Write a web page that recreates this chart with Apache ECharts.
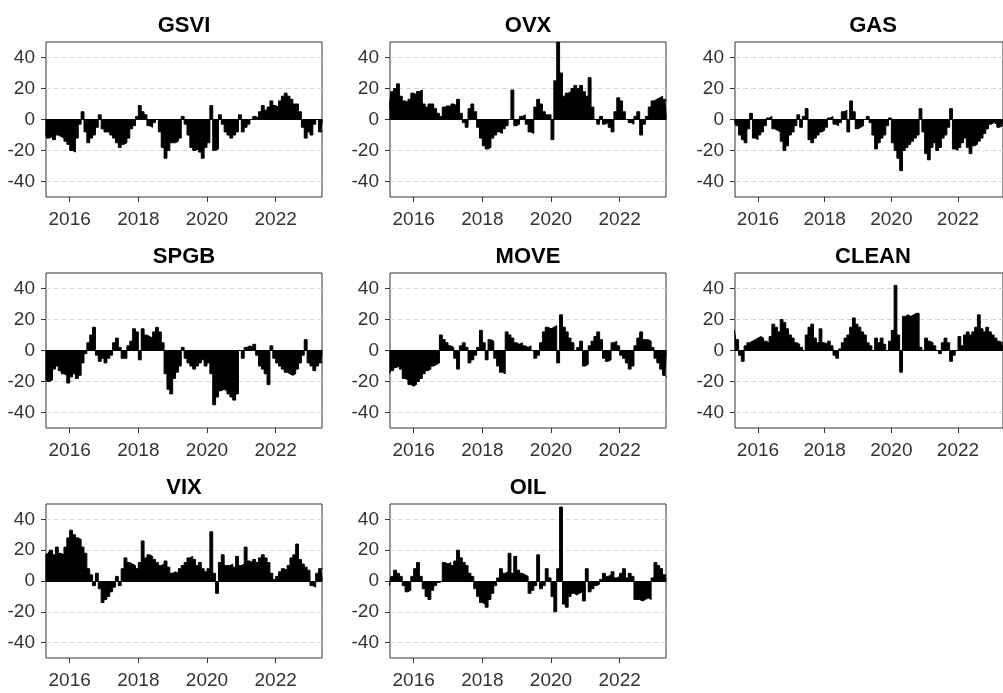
<!DOCTYPE html>
<html>
<head>
<meta charset="utf-8">
<title>Panels</title>
<script src="https://cdn.jsdelivr.net/npm/echarts@6/dist/echarts.min.js"></script>
<style>
  html, body { margin: 0; padding: 0; background: #fff; }
  #chart { width: 1003px; height: 693px; }
</style>
</head>
<body>
<div id="chart"></div>
<script>
// monthly observations, Apr 2015 .. May 2023
const firstMonth = 2015.25
const yearTicks = [2016, 2018, 2020, 2022]
const valueTicks = [-40, -20, 0, 20, 40]
const names = ['GSVI', 'OVX', 'GAS', 'SPGB', 'MOVE', 'CLEAN', 'VIX', 'OIL']

const gsvi = [
  -10, -12, -11, -13, -10, -11, -12, -14, -16,
  -20, -21, -12, -3, 5, -8, -15, -12, -10, -5, 3, -6,
  -8, -8, -10, -12, -15, -18, -16, -15, -12, -6, -4, 2,
  9, 5, 3, -4, -5, -2, 0, -8, -18, -25, -20, -15,
  -15, -14, -12, 2, -3, -10, -18, -20, -19, -21, -25, -18,
  -15, 9, -20, -19, 3, -3, -8, -10, -12, -10, -8, 3,
  -8, -5, -3, 0, 2, 1, 5, 9, 6, 8, 12, 9,
  8, 12, 15, 17, 15, 13, 10, 10, 5, -5, -12, -8,
  -10, -3, 0, -8, -7
]
const ovx = [
  8, 18, 20, 23, 15, 12, 11, 13, 17,
  16, 18, 19, 10, 8, 10, 10, 7, 4, 2, 8, 9,
  8, 10, 9, 13, 4, -2, -5, 7, 10, 5, -5, -12,
  -17, -19, -18, -12, -10, -8, -9, -6, -4, 0, 19, -4,
  -3, 2, 3, -3, -8, -9, 8, 13, 10, 5, 3, 3,
  -13, 25, 50, 30, 15, 17, 18, 20, 22, 20, 22, 18,
  15, 27, 8, 0, -3, 2, -3, -2, -5, -8, 5, 14,
  12, 5, 0, -2, -3, 2, 5, -10, -3, 2, 8, 12,
  13, 14, 15, 13, 12
]
const gas = [
  -1, -4, -10, -13, -15, -6, 4, -12, -13,
  -10, -8, -4, 1, 2, -6, -7, -8, -14, -20, -17, -10,
  -8, -4, 3, -5, 2, 7, -13, -15, -12, -10, -8, -7,
  -5, 1, 2, -3, -4, -2, 5, 6, -8, 12, 5, -6,
  -5, -4, 0, 2, -2, -10, -19, -15, -12, -10, -4, 1,
  -15, -20, -25, -33, -20, -18, -16, -14, -12, -10, 7, -8,
  -22, -26, -18, -15, -20, -18, -12, -10, -5, 7, -19, -20,
  -18, -15, -12, -18, -22, -17, -16, -14, -12, -9, -6, -3,
  -2, -3, -5, -4, -3
]
const spgb = [
  -18, -20, -19, -12, -10, -13, -15, -16, -21,
  -17, -15, -18, -16, -8, -2, 5, 10, 15, -3, -7, -5,
  -8, -5, -3, 5, 8, 2, -5, -5, 3, 6, 14, 12,
  -6, 14, 10, 9, 8, 12, 15, 12, 5, -15, -25, -28,
  -18, -14, -10, 2, -5, -8, -10, -12, -10, -8, -6, -10,
  -8, -15, -35, -30, -26, -25, -26, -28, -30, -32, -28, 0,
  -5, 2, 3, 2, 4, -3, -10, -12, -15, -22, 3, -5,
  -8, -10, -12, -14, -15, -16, -15, -12, -8, -3, 7, -8,
  -10, -13, -10, -8, -7
]
const move = [
  -15, -13, -11, -10, -12, -18, -19, -22, -23,
  -22, -20, -18, -15, -13, -12, -10, -9, -8, 10, 7, 5,
  3, 2, -5, -12, 3, 5, 2, -8, -6, -3, 2, 13,
  5, -6, 7, 6, -5, -10, -14, -15, 12, 10, 8, 5,
  4, 5, 3, 2, 3, 0, -5, -3, 5, 12, 15, 14,
  15, 16, -8, 23, 15, 12, 8, 5, 0, 2, 6, -10,
  -9, 3, 6, 9, 12, 7, -5, -7, -6, 5, 6, 3,
  -3, -5, -8, -12, -10, 3, 8, 12, 7, 7, 6, 2,
  -5, -8, -12, -16, -17
]
const clean = [
  13, 7, -3, -7, 3, 5, 6, 7, 8,
  9, 8, 6, 5, 9, 17, 15, 12, 20, 18, 14, 10,
  8, 5, 4, 2, 0, 10, 15, 17, 8, 5, 14, 5,
  4, 6, 3, -3, -5, 1, 5, 8, 10, 15, 21, 17,
  15, 12, 10, 5, 3, 0, 8, 5, 8, 4, 0, 6,
  13, 42, 10, -14, 22, 23, 22, 23, 24, 24, 2, 0,
  8, 6, 5, 3, 0, -2, 5, 8, 5, -7, -3, 0,
  9, 3, 10, 12, 10, 12, 15, 23, 14, 12, 15, 12,
  10, 8, 6, 5, 5
]
const vix = [
  17, 18, 20, 17, 22, 18, 17, 22, 28,
  33, 30, 28, 27, 22, 18, 8, 4, -3, 5, -5, -14,
  -12, -10, -7, -4, 3, -3, 8, 15, 12, 11, 10, 8,
  12, 26, 15, 17, 16, 14, 12, 10, 11, 13, 9, 5,
  6, 5, 8, 10, 12, 15, 16, 14, 10, 12, 8, 6,
  8, 32, 5, -8, 12, 17, 10, 10, 11, 9, 16, 10,
  11, 22, 13, 12, 14, 12, 15, 17, 15, 12, 5, 1,
  3, 6, 8, 7, 10, 15, 17, 24, 14, 11, 9, 7,
  -3, -4, 5, 8, 8
]
const oil = [
  -3, 3, 7, 5, 3, -3, -7, -6, 3,
  8, 12, 3, -5, -10, -12, -6, -3, -1, 0, 12, 11,
  12, 10, 13, 20, 15, 12, 10, 5, 3, -5, -10, -14,
  -15, -17, -12, -8, -3, 2, 8, 5, 6, 18, 5, 16,
  7, 5, 4, 3, -8, -6, -3, 17, -5, -3, 8, 2,
  -10, -20, 8, 48, -15, -17, -10, -8, -9, -8, -7, -13,
  8, -7, -5, -3, -2, 1, 5, 3, 4, 6, 2, 3,
  5, 8, 2, 5, 3, -12, -12, -13, -12, -11, -12, 2,
  12, 10, 8, 4, 3
]
const panels = [gsvi, ovx, gas, spgb, move, clean, vix, oil]

// layout
const colLeft = [46, 390, 735]
const colWidth = 276
const rowTop = [42, 273, 504]
const rowHeight = [155, 155, 154]
const font = '"Liberation Sans", Arial, Helvetica, sans-serif'

const chart = echarts.init(document.getElementById('chart'), null, { renderer: 'canvas' })

const grids = []
const xAxes = []
const yAxes = []
const series = []
const titles = []

panels.forEach((vals, k) => {
  const col = k % 3
  const row = Math.floor(k / 3)
  grids.push({
    left: colLeft[col],
    top: rowTop[row],
    width: colWidth,
    height: rowHeight[row],
    show: true,
    borderColor: '#333',
    borderWidth: 1,
    backgroundColor: 'transparent'
  })
  xAxes.push({
    type: 'value',
    gridIndex: k,
    min: 2015.31,
    max: 2023.35,
    axisLine: { show: false, onZero: false },
    axisTick: { show: true, length: 5, customValues: yearTicks, lineStyle: { color: '#333' } },
    axisLabel: {
      customValues: yearTicks,
      formatter: v => String(v),
      fontSize: 19,
      fontFamily: font,
      color: '#333',
      margin: 13
    },
    splitLine: { show: false }
  })
  yAxes.push({
    type: 'value',
    gridIndex: k,
    min: -50,
    max: 50,
    axisLine: { show: false, onZero: false },
    axisTick: { show: true, length: 5, customValues: valueTicks, lineStyle: { color: '#333' } },
    axisLabel: {
      customValues: valueTicks,
      fontSize: 19,
      fontFamily: font,
      color: '#333',
      margin: 11
    },
    splitLine: { show: true, lineStyle: { color: '#d4d4d4', width: 1, type: [5, 3] } }
  })
  series.push({
    name: names[k],
    type: 'line',
    xAxisIndex: k,
    yAxisIndex: k,
    data: vals.map((v, i) => [firstMonth + (i + 0.5) / 12, v]),
    step: 'middle',
    symbol: 'none',
    clip: true,
    lineStyle: { color: '#000', width: 1 },
    areaStyle: { color: '#000', opacity: 1 },
    markLine: {
      silent: true,
      symbol: 'none',
      label: { show: false },
      lineStyle: { color: '#000', width: 1, type: 'solid' },
      data: [{ yAxis: 0 }]
    }
  })
  titles.push({
    type: 'text',
    x: colLeft[col] + colWidth / 2,
    y: rowTop[row] - 16,
    style: {
      text: names[k],
      font: 'bold 22px ' + font,
      fill: '#000',
      textAlign: 'center',
      textVerticalAlign: 'middle',
      align: 'center',
      verticalAlign: 'middle'
    }
  })
})

chart.setOption({
  animation: false,
  backgroundColor: '#fff',
  grid: grids,
  xAxis: xAxes,
  yAxis: yAxes,
  series: series,
  graphic: titles
})
</script>
</body>
</html>
